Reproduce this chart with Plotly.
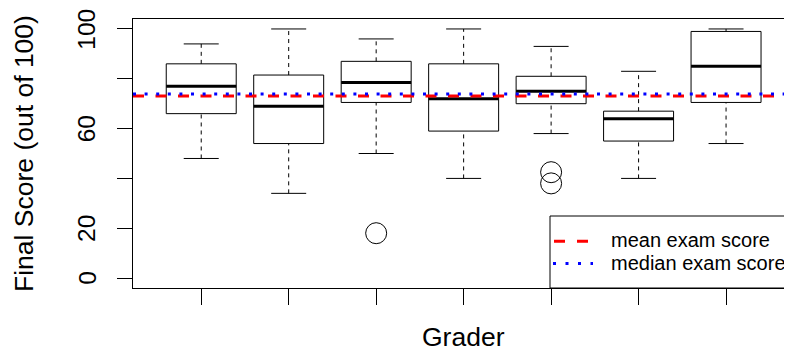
import plotly.graph_objects as go

# ---- data ----
graders = [1, 2, 3, 4, 5, 6, 7]
lower_whisker = [48, 34, 50, 40, 58, 40, 54]
q1 = [66, 54, 70.5, 59, 70, 55, 70.5]
medians = [77, 69, 78.5, 72, 75, 64, 85]
q3 = [86, 81.5, 87, 86, 81, 67, 99]
upper_whisker = [94, 100, 96, 100, 93, 83, 100]
outlier_grader = [3, 5, 5]
outlier_score = [18, 42.5, 38]
mean_score = 73.1
median_score = 73.9
y_ticks = [0, 20, 40, 60, 80, 100]
y_tick_labels = ["0", "20", "", "60", "", "100"]
legend_labels = ["mean exam score", "median exam score"]

HALF = 0.4      # half box width (boxwex 0.8)
STAPLE = 0.2    # half staple width

# ---- build line geometry from data ----
bx, by = [], []
mx, my = [], []
wx, wy = [], []
sx, sy = [], []
for g, lo, a, m, b, hi in zip(graders, lower_whisker, q1, medians, q3, upper_whisker):
    bx += [g - HALF, g + HALF, g + HALF, g - HALF, g - HALF, None]
    by += [a, a, b, b, a, None]
    mx += [g - HALF, g + HALF, None]
    my += [m, m, None]
    wx += [g, g, None, g, g, None]
    wy += [lo, a, None, b, hi, None]
    sx += [g - STAPLE, g + STAPLE, None, g - STAPLE, g + STAPLE, None]
    sy += [lo, lo, None, hi, hi, None]

fig = go.Figure()
fig.add_trace(go.Scatter(x=wx, y=wy, mode="lines", line=dict(color="black", width=1, dash="4px,4px"),
                         hoverinfo="skip"))
fig.add_trace(go.Scatter(x=sx, y=sy, mode="lines", line=dict(color="black", width=1), hoverinfo="skip"))
fig.add_trace(go.Scatter(x=bx, y=by, mode="lines", line=dict(color="black", width=1), hoverinfo="skip"))
fig.add_trace(go.Scatter(x=mx, y=my, mode="lines", line=dict(color="black", width=3), hoverinfo="skip"))
fig.add_trace(go.Scatter(x=outlier_grader, y=outlier_score, mode="markers",
                         marker=dict(symbol="circle-open", size=21, color="black", line=dict(width=1)),
                         hoverinfo="skip"))

# reference lines
fig.add_shape(type="line", xref="paper", x0=0, x1=1, yref="y", y0=mean_score, y1=mean_score,
              line=dict(color="red", width=3, dash="11px,11.5px"))
fig.add_shape(type="line", xref="paper", x0=0, x1=1, yref="y", y0=median_score, y1=median_score,
              line=dict(color="blue", width=3, dash="3px,8.6px"))

# ---- page coordinates -> paper fractions (plot area spans x 133..792, y 19..288 in the page)
W, L = 659.0, 133.0
PH, PB = 269.0, 288.0
def px(x):
    return (x - L) / W
def py(y):
    return (PB - y) / PH

# y tick labels, rotated like R's las=0 labels, placed at the tick values
for tv, tl in zip(y_ticks, y_tick_labels):
    if tl:
        fig.add_annotation(text=tl, xref="paper", yref="y", x=px(86.7), y=tv, xanchor="center",
                           yanchor="middle", textangle=-90, showarrow=False, font=dict(size=24.5),
                           borderpad=0)

# ---- manual legend (bottom right, like R legend) ----
fig.add_shape(type="rect", xref="paper", yref="paper", x0=px(550), x1=1.05, y0=0, y1=py(216),
              line=dict(color="black", width=1), fillcolor="white", layer="above")
row_y = [241.2, 263.5]
fig.add_shape(type="line", xref="paper", yref="paper", x0=px(554), x1=px(589), y0=py(row_y[0]), y1=py(row_y[0]),
              line=dict(color="red", width=3, dash="11px,12px"))
fig.add_shape(type="line", xref="paper", yref="paper", x0=px(553), x1=px(593), y0=py(row_y[1]), y1=py(row_y[1]),
              line=dict(color="blue", width=3, dash="3px,9.5px"))
for lab, ry in zip(legend_labels, row_y):
    fig.add_annotation(text=lab, xref="paper", yref="paper", x=px(609), y=py(ry - 1), xanchor="left",
                       yanchor="middle", showarrow=False, font=dict(size=20))

# axis titles
fig.add_annotation(text="Grader", xref="paper", yref="paper", x=px(463.8), y=py(336.5), xanchor="center",
                   yanchor="middle", showarrow=False, font=dict(size=26.5))
fig.add_annotation(text="Final Score (out of 100)", xref="paper", yref="paper", x=px(23.5), y=0.5,
                   xanchor="center", yanchor="middle", textangle=-90, showarrow=False, font=dict(size=26.5))

# the page body has an 8px margin, so the figure is 8px smaller and margins shifted by 8
fig.update_layout(
    width=784, height=339,
    margin=dict(l=125, r=0, t=11, b=59, autoexpand=False),
    plot_bgcolor="white", paper_bgcolor="white",
    showlegend=False,
    font=dict(family="Liberation Sans, Arial, sans-serif", color="black"),
)
fig.update_xaxes(range=[0.22, 7.754], showgrid=False, zeroline=False, showline=True, linecolor="black",
                 linewidth=1, mirror=True, ticks="outside", ticklen=16, tickcolor="black", tickwidth=1,
                 tickvals=graders, showticklabels=False, automargin=False)
fig.update_yaxes(range=[-4, 104], showgrid=False, zeroline=False, showline=True, linecolor="black",
                 linewidth=1, ticks="outside", ticklen=15, tickcolor="black", tickwidth=1,
                 tickvals=y_ticks, showticklabels=False, automargin=False)

fig.write_html("out.html")
